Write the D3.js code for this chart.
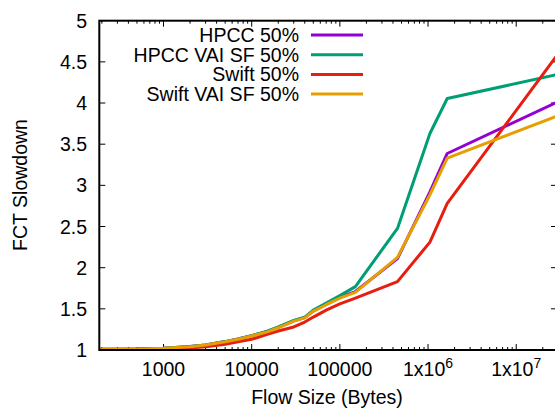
<!DOCTYPE html>
<html>
<head>
<meta charset="utf-8">
<script src="https://cdn.jsdelivr.net/npm/d3@7"></script>
<style>
  body { margin: 0; background: #fff; }
  svg { display: block; font-family: "Liberation Sans", Arial, sans-serif; }
</style>
</head>
<body>
<svg id="chart" width="555" height="409"></svg>
<script>
// flow sizes (bytes), shared by all series
var sizes = [150, 200, 500, 1000, 2000, 3000, 5000, 7000, 10000, 15000, 20000, 30000,
             40000, 50000, 70000, 100000, 150000, 450000, 1050000, 1650000, 29000000];

var hpcc     = [1.006, 1.008, 1.011, 1.021, 1.042, 1.062, 1.102, 1.133, 1.173, 1.225, 1.275, 1.355,
                1.395, 1.475, 1.555, 1.64, 1.71, 2.11, 2.92, 3.387, 4.01];
var hpccVai  = [1.006, 1.008, 1.011, 1.021, 1.042, 1.062, 1.102, 1.133, 1.175, 1.228, 1.28, 1.36,
                1.40, 1.485, 1.57, 1.66, 1.77, 2.477, 3.63, 4.055, 4.345];
var swift    = [1.004, 1.005, 1.008, 1.012, 1.025, 1.04, 1.07, 1.10, 1.13, 1.19, 1.23, 1.28,
                1.34, 1.40, 1.485, 1.56, 1.63, 1.83, 2.31, 2.78, 4.58];
var swiftVai = [1.006, 1.008, 1.01, 1.02, 1.04, 1.06, 1.10, 1.13, 1.17, 1.22, 1.27, 1.35,
                1.39, 1.47, 1.55, 1.63, 1.70, 2.125, 2.886, 3.33, 3.84];

var seriesNames = ["HPCC 50%", "HPCC VAI SF 50%", "Swift 50%", "Swift VAI SF 50%"];
var seriesColors = ["#9400d3", "#009e73", "#e51e10", "#e69f00"];
var seriesValues = [hpcc, hpccVai, swift, swiftVai];

var yTicks = [1, 1.5, 2, 2.5, 3, 3.5, 4, 4.5, 5];
var xTicks = [1000, 10000, 100000, 1000000, 10000000];

var pLeft = 99.3, pRight = 557, pTop = 20.7, pBottom = 350;
var fs = 19.5;

var svg = d3.select("#chart");

var x = d3.scaleLog().domain([187, 2.9e7]).range([pLeft, pRight]);
var y = d3.scaleLinear().domain([1, 5]).range([pBottom, pTop]);

// clip
svg.append("clipPath").attr("id", "clip")
  .append("rect")
  .attr("x", pLeft).attr("y", pTop)
  .attr("width", pRight - pLeft).attr("height", pBottom - pTop);

// minor log ticks
var minor = [];
for (var e = 2; e <= 7; e++) {
  for (var m = 1; m <= 9; m++) {
    var v = m * Math.pow(10, e);
    if (v >= 187 && v <= 2.9e7) minor.push(v);
  }
}

var tickG = svg.append("g").attr("stroke", "#000").attr("stroke-width", 1);
minor.forEach(function (v) {
  var major = xTicks.indexOf(v) >= 0;
  var len = major ? 6 : 3;
  tickG.append("line").attr("x1", x(v)).attr("x2", x(v))
    .attr("y1", pBottom).attr("y2", pBottom - len);
  tickG.append("line").attr("x1", x(v)).attr("x2", x(v))
    .attr("y1", pTop).attr("y2", pTop + len);
});
yTicks.forEach(function (v) {
  tickG.append("line").attr("x1", pLeft).attr("x2", pLeft + 6)
    .attr("y1", y(v)).attr("y2", y(v));
  tickG.append("line").attr("x1", pRight).attr("x2", pRight - 6)
    .attr("y1", y(v)).attr("y2", y(v));
});

// tick labels
svg.append("g").selectAll("text").data(yTicks).join("text")
  .attr("x", 87).attr("y", function (d) { return y(d); })
  .attr("dy", "0.36em")
  .attr("text-anchor", "end")
  .attr("font-size", fs)
  .text(function (d) { return d; });

var xl = svg.append("g").selectAll("text").data(xTicks).join("text")
  .attr("x", function (d) { return x(d); })
  .attr("y", 376)
  .attr("text-anchor", "middle")
  .attr("font-size", fs);
xl.each(function (d) {
  var t = d3.select(this);
  if (d < 1000000) {
    t.text(d);
  } else {
    var p = Math.round(Math.log10(d));
    t.append("tspan").text("1x10");
    t.append("tspan").attr("font-size", 14).attr("dy", -8).text(p);
  }
});

// axis titles
svg.append("text")
  .attr("transform", "translate(27,185) rotate(-90)")
  .attr("text-anchor", "middle")
  .attr("font-size", fs)
  .text("FCT Slowdown");
svg.append("text")
  .attr("x", 327).attr("y", 404)
  .attr("text-anchor", "middle")
  .attr("font-size", fs)
  .text("Flow Size (Bytes)");

// lines
var line = d3.line()
  .x(function (d) { return x(d[0]); })
  .y(function (d) { return y(d[1]); });

var plot = svg.append("g").attr("clip-path", "url(#clip)");
seriesValues.forEach(function (vals, i) {
  plot.append("path")
    .datum(sizes.map(function (s, j) { return [s, vals[j]]; }))
    .attr("fill", "none")
    .attr("stroke", seriesColors[i])
    .attr("stroke-width", 3)
    .attr("stroke-linejoin", "round")
    .attr("d", line);
});

// border
svg.append("rect")
  .attr("x", pLeft).attr("y", pTop)
  .attr("width", pRight - pLeft).attr("height", pBottom - pTop)
  .attr("fill", "none").attr("stroke", "#000").attr("stroke-width", 2);

// legend
var leg = svg.append("g");
seriesNames.forEach(function (name, i) {
  var ly = 35 + i * 19.7;
  leg.append("text")
    .attr("x", 299).attr("y", ly).attr("dy", "0.36em")
    .attr("text-anchor", "end")
    .attr("font-size", fs)
    .text(name);
  leg.append("line")
    .attr("x1", 311).attr("x2", 363)
    .attr("y1", ly).attr("y2", ly)
    .attr("stroke", seriesColors[i])
    .attr("stroke-width", 3);
});
</script>
</body>
</html>
